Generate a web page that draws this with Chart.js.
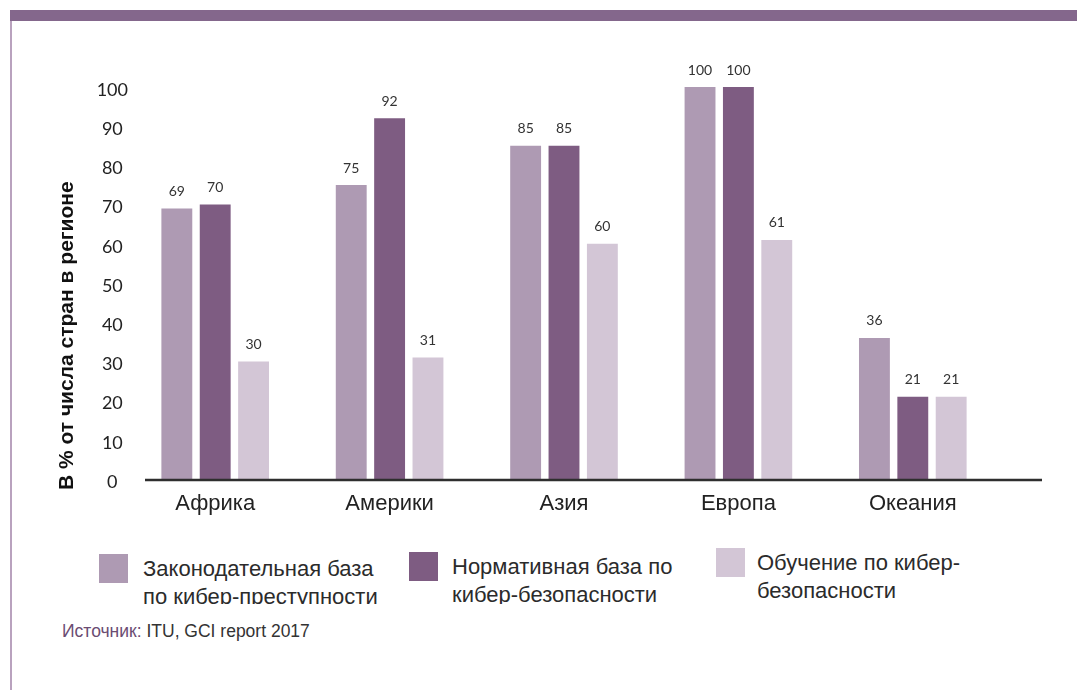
<!DOCTYPE html>
<html lang="ru">
<head>
<meta charset="utf-8">
<title>Правовая база и обучение по кибер-безопасности по регионам</title>
<script src="https://cdn.jsdelivr.net/npm/chart.js@4.4.0/dist/chart.umd.min.js"></script>
<style>
  html, body { margin: 0; padding: 0; background: #fff; }
  #page { position: relative; width: 1077px; height: 690px; overflow: hidden; font-family: 'Liberation Sans', Arial, sans-serif; }
  #topbar { position: absolute; left: 10px; top: 10px; right: 0; height: 11px; background: #84678c; }
  #sideline { position: absolute; left: 10px; top: 21px; width: 2px; bottom: 0; background: #b9a2be; }
  #chart { position: absolute; left: 0; top: 0; }
  #legend { position: absolute; left: 0; top: 540px; width: 1077px; height: 64px; overflow: hidden; }
  .item { position: absolute; }
  .box { position: absolute; left: 0; top: 0; width: 29px; height: 29px; }
  .txt { position: absolute; white-space: pre; font-size: 22px; line-height: 28px; color: #2b2b2b; }
  #source { position: absolute; left: 62px; top: 621px; font-size: 17.5px; color: #333; }
  #source span { color: #6b4c72; }
</style>
</head>
<body>
<div id="page">
  <div id="topbar"></div>
  <div id="sideline"></div>
  <canvas id="chart" width="1077" height="540"></canvas>
  <div id="legend"></div>
  <div id="source"><span>Источник:</span> ITU, GCI report 2017</div>
</div>
<script>
// регионы и доли стран (%)
const regions = ['Африка', 'Америки', 'Азия', 'Европа', 'Океания'];
const legalBase = [69, 75, 85, 100, 36];
const regulatoryBase = [70, 92, 85, 100, 21];
const training = [30, 31, 60, 61, 21];

const seriesNames = [
  'Законодательная база\nпо кибер-преступности',
  'Нормативная база по\nкибер-безопасности',
  'Обучение по кибер-\nбезопасности'
];
const seriesColors = ['#ae9ab3', '#7e5c82', '#d3c6d6'];
const yTicks = [0, 10, 20, 30, 40, 50, 60, 70, 80, 90, 100];
const yTitle = 'В % от числа стран в регионе';

// подписи значений над столбцами
const valueLabels = {
  id: 'valueLabels',
  afterDatasetsDraw(chart) {
    const ctx = chart.ctx;
    ctx.save();
    ctx.font = '14px Lato, "Open Sans", sans-serif';
    ctx.fillStyle = '#333';
    ctx.textAlign = 'center';
    ctx.textBaseline = 'middle';
    chart.data.datasets.forEach((ds, i) => {
      chart.getDatasetMeta(i).data.forEach((bar, j) => {
        ctx.fillText(ds.data[j], bar.x, bar.y - 17);
      });
    });
    ctx.restore();
  }
};

// линия оси X (сдвинута вправо) и повёрнутый заголовок оси Y
const axisDecor = {
  id: 'axisDecor',
  afterDatasetsDraw(chart) {
    const { ctx, chartArea } = chart;
    ctx.save();
    ctx.strokeStyle = '#2e2e2e';
    ctx.lineWidth = 2.5;
    ctx.beginPath();
    ctx.moveTo(chartArea.left + 17, chartArea.bottom + 1);
    ctx.lineTo(chartArea.right + 42, chartArea.bottom + 1);
    ctx.stroke();

    ctx.translate(chartArea.left - 61, chartArea.bottom + 11);
    ctx.rotate(-Math.PI / 2);
    ctx.font = 'bold 21px "Liberation Sans", Arial, sans-serif';
    ctx.fillStyle = '#111';
    ctx.textAlign = 'left';
    ctx.textBaseline = 'middle';
    ctx.fillText(yTitle, 0, 0);
    ctx.restore();
  }
};

const datasets = [legalBase, regulatoryBase, training].map((values, i) => ({
  label: seriesNames[i],
  data: values,
  backgroundColor: seriesColors[i],
  categoryPercentage: 0.66,
  barPercentage: 0.805
}));

new Chart(document.getElementById('chart'), {
  type: 'bar',
  data: { labels: regions, datasets: datasets },
  plugins: [valueLabels, axisDecor],
  options: {
    responsive: false,
    animation: false,
    devicePixelRatio: 1,
    layout: { padding: { left: 53, top: 87, right: 77, bottom: 0 } },
    plugins: { legend: { display: false }, tooltip: { enabled: false } },
    scales: {
      x: {
        grid: { display: false, drawTicks: false },
        border: { display: false },
        ticks: {
          color: '#222',
          padding: 12,
          font: { family: '"Liberation Sans", Arial, sans-serif', size: 22 }
        },
        afterFit(scale) { scale.height = 61; }
      },
      y: {
        min: 0,
        max: 100,
        grid: { display: false, drawTicks: false },
        border: { display: false },
        afterBuildTicks(scale) { scale.ticks = yTicks.map(v => ({ value: v })); },
        ticks: {
          color: '#222',
          crossAlign: 'center',
          padding: 0,
          labelOffset: 3,
          font: { family: 'Lato, "Open Sans", sans-serif', size: 18 }
        },
        afterFit(scale) { scale.width = 75; }
      }
    }
  }
});

// легенда из двух строк (нижняя строка подрезана контейнером)
const legendPos = [
  { x: 99, y: 14, tx: 143 },
  { x: 409, y: 12, tx: 452 },
  { x: 716, y: 8, tx: 757 }
];
const legend = document.getElementById('legend');
datasets.forEach((ds, i) => {
  const p = legendPos[i];
  const item = document.createElement('div');
  item.className = 'item';
  item.style.left = p.x + 'px';
  item.style.top = p.y + 'px';
  const box = document.createElement('div');
  box.className = 'box';
  box.style.background = ds.backgroundColor;
  const txt = document.createElement('div');
  txt.className = 'txt';
  txt.style.left = (p.tx - p.x) + 'px';
  txt.style.top = '1px';
  txt.textContent = ds.label;
  item.appendChild(box);
  item.appendChild(txt);
  legend.appendChild(item);
});
</script>
</body>
</html>
